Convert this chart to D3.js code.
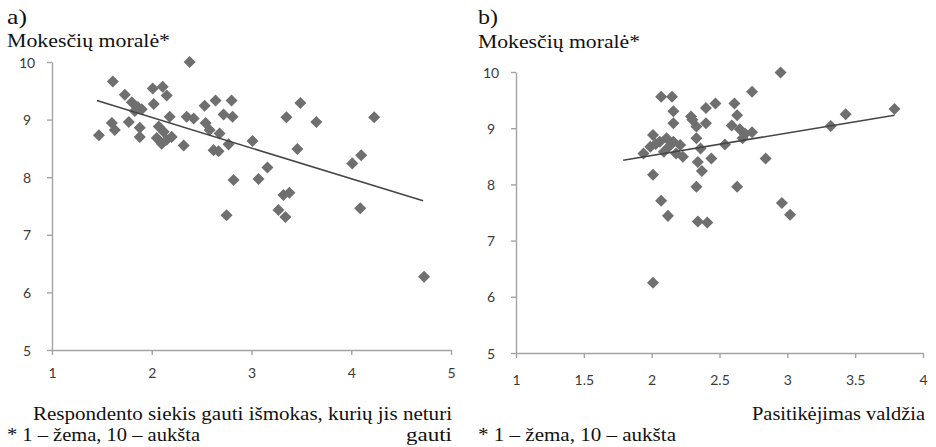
<!DOCTYPE html>
<html><head><meta charset="utf-8">
<script src="https://cdn.jsdelivr.net/npm/d3@7"></script>
<style>body{margin:0;background:#fff}svg{display:block}</style>
</head><body><svg id="c" width="936" height="447"></svg>
<script>
// Panel a) data: x = Respondento siekis gauti išmokas..., y = Mokesčių moralė
const aX = [2.38,1.61,1.73,2.01,2.11,2.15,2.02,1.80,1.86,1.83,1.90,1.77,1.60,1.63,1.47,1.88,1.88,2.18,2.35,2.42,2.53,2.64,2.80,2.72,2.81,2.54,2.58,2.68,2.77,2.62,2.67,2.32,2.07,2.12,2.05,2.15,2.10,2.20,2.82,2.75,3.01,3.49,3.35,3.65,4.23,3.46,3.16,3.07,4.10,4.01,3.32,3.38,3.27,3.34,4.09,4.73];
const aY = [10.0,9.66,9.43,9.54,9.57,9.42,9.27,9.30,9.22,9.15,9.18,8.96,8.94,8.82,8.73,8.86,8.70,9.05,9.05,9.02,9.24,9.33,9.33,9.09,9.05,8.94,8.82,8.76,8.57,8.47,8.45,8.55,8.88,8.79,8.68,8.65,8.58,8.70,7.95,7.34,8.63,9.29,9.04,8.96,9.04,8.49,8.17,7.97,8.38,8.24,7.69,7.73,7.43,7.31,7.46,6.27];
const aTrend = [[1.45,9.33],[4.72,7.59]];
const aXTicks = [1,2,3,4,5];
const aYTicks = [5,6,7,8,9,10];

// Panel b) data: x = Pasitikėjimas valdžia, y = Mokesčių moralė
const bX = [2.07,2.15,2.16,2.16,2.01,2.06,2.11,2.16,2.21,2.18,1.94,1.99,2.09,2.23,2.29,2.33,2.40,2.33,2.36,2.40,2.47,2.34,2.37,2.44,2.54,2.61,2.63,2.59,2.65,2.69,2.74,2.67,2.74,2.84,2.33,2.63,2.01,2.07,2.12,2.34,2.41,2.96,3.02,2.01,2.95,3.32,3.43,3.79,2.03,2.13,2.30];
const bY = [9.56,9.56,9.30,9.09,8.88,8.76,8.82,8.76,8.70,8.55,8.55,8.67,8.58,8.49,9.21,9.03,9.09,8.82,8.64,9.36,9.44,8.40,8.24,8.46,8.71,9.44,9.23,9.05,8.98,8.90,8.93,8.82,9.65,8.46,7.96,7.96,8.17,7.71,7.44,7.34,7.32,7.67,7.46,6.25,9.99,9.04,9.25,9.34,8.72,8.68,9.15];
const bTrend = [[1.79,8.43],[3.79,9.23]];
const bXTicks = [1,1.5,2,2.5,3,3.5,4];
const bYTicks = [5,6,7,8,9,10];

const panelLabels = ["a)","b)"];
const yTitle = "Mokesčių moralė*";
const aXTitle = ["Respondento siekis gauti išmokas, kurių jis neturi","gauti"];
const bXTitle = ["Pasitikėjimas valdžia"];
const footnote = "* 1 – žema, 10 – aukšta";

const svg = d3.select("#c");
const serif = "'Liberation Serif','Times New Roman',serif";
const sans = "Lato,'Open Sans',sans-serif";
const axisCol = "#a3a3a3", markCol = "#6f6f6f", lineCol = "#454545";

function panel(o){
  const x = d3.scaleLinear().domain(o.xd).range(o.xr);
  const y = d3.scaleLinear().domain(o.yd).range(o.yr);
  const g = svg.append("g");
  const ax = g.append("g").attr("transform",`translate(0,${o.yr[0]})`)
    .call(d3.axisBottom(x).tickValues(o.xt).tickSize(5).tickSizeOuter(0).tickFormat(d=>String(d)));
  const ay = g.append("g").attr("transform",`translate(${o.xr[0]},0)`)
    .call(d3.axisLeft(y).tickValues(o.yt).tickSize(5).tickSizeOuter(0).tickFormat(d=>String(d)));
  [ax,ay].forEach(a=>{
    a.selectAll("path,line").attr("stroke",axisCol).attr("stroke-width",1.4);
    a.selectAll("text").attr("font-family",sans).attr("font-size",14).attr("fill","#3a3a3a");
  });
  ax.selectAll("text").attr("dy",null).attr("y",o.xLabY);
  ay.selectAll("text").attr("x",-25).attr("text-anchor","middle").attr("dy","0.36em");
  const pts = o.px.map((v,i)=>[v,o.py[i]]);
  const sym = d3.symbol().type(d3.symbolDiamond2).size(92);
  g.append("g").selectAll("path").data(pts).join("path")
    .attr("d",sym).attr("transform",d=>`translate(${x(d[0])},${y(d[1])})`)
    .attr("fill",markCol);
  g.append("path").datum(o.trend)
    .attr("d",d3.line().x(d=>x(d[0])).y(d=>y(d[1])))
    .attr("stroke",lineCol).attr("stroke-width",1.6).attr("fill","none");
}

panel({xd:[1,5],yd:[5,10],xr:[52,451],yr:[350,62],xt:aXTicks,yt:aYTicks,px:aX,py:aY,trend:aTrend,xLabY:28});
panel({xd:[1,4],yd:[5,10],xr:[516,923],yr:[353,72],xt:bXTicks,yt:bYTicks,px:bX,py:bY,trend:bTrend,xLabY:32});

function txt(s,x,yy,size,anchor,len){
  const t = svg.append("text").attr("x",x).attr("y",yy).attr("font-family",serif).attr("font-size",size)
    .attr("text-anchor",anchor||"start").attr("fill","#111").text(s);
  if(len) t.attr("textLength",len).attr("lengthAdjust","spacingAndGlyphs");
}
txt(panelLabels[0],7,24,22,"start",20);
txt(panelLabels[1],478,24,22,"start",20);
txt(yTitle,7,47,18.5,"start",163);
txt(yTitle,478,48,18.5,"start",162);
txt(aXTitle[0],452,420,18.5,"end",419);
txt(aXTitle[1],452,441,18.5,"end",46);
txt(bXTitle[0],925,420,18.5,"end",173);
txt(footnote,7,441,18.5,"start",193);
txt(footnote,478,441,18.5,"start",198);
</script></body></html>
